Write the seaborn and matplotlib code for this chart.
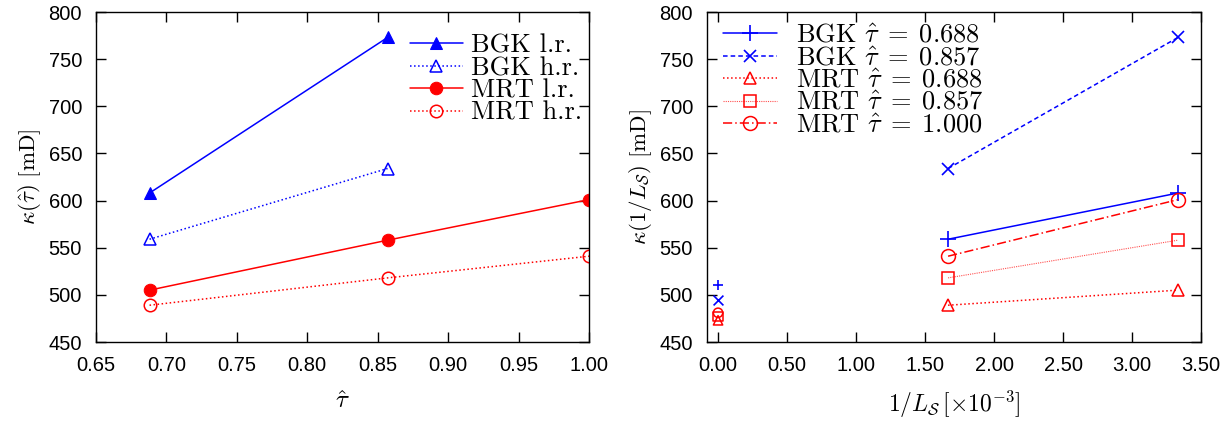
import matplotlib
matplotlib.use("Agg")
import matplotlib.pyplot as plt
import seaborn as sns
import numpy as np

# --- data ---
tau = [0.688, 0.857, 1.000]
bgk_lr = [608, 773]
bgk_hr = [559, 634]
mrt_lr = [505, 558, 601]
mrt_hr = [489, 518, 541]

# 1/L_S in units of 1e-3 (h.r., l.r.) and extrapolated value at 0
inv_ls = [1.667, 3.333]
inv_ls0 = [0.0]
bgk_0688 = [559, 608]
bgk_0857 = [634, 773]
mrt_0688 = [489, 505]
mrt_0857 = [518, 558]
mrt_1000 = [541, 601]
bgk_0688_ext = [510]
bgk_0857_ext = [495]
mrt_0688_ext = [473]
mrt_0857_ext = [477]
mrt_1000_ext = [481]

sns.set_style("ticks")
plt.rcParams['font.family'] = ['Liberation Sans', 'DejaVu Sans']
plt.rcParams['mathtext.fontset'] = 'cm'
plt.rcParams['xtick.direction'] = 'in'
plt.rcParams['ytick.direction'] = 'in'
plt.rcParams['xtick.top'] = True
plt.rcParams['ytick.right'] = True
for key in ['text.color', 'axes.labelcolor', 'xtick.color', 'ytick.color',
            'xtick.labelcolor', 'ytick.labelcolor']:
    plt.rcParams[key] = 'black'

W, H = 1232, 426
fig = plt.figure(figsize=(W / 100, H / 100), dpi=100)
ax1 = fig.add_axes([96 / W, 1 - 342 / H, 493 / W, 330 / H])
ax2 = fig.add_axes([707 / W, 1 - 342 / H, 494 / W, 330 / H])

blue = '#0000ff'
red = '#ff0000'
leg_font = {'family': 'cmr10', 'size': 19}

# left panel
sns.lineplot(x=tau[:2], y=bgk_lr, ax=ax1, color=blue, linestyle='-', lw=1.1,
             marker='^', markersize=8, markerfacecolor=blue, markeredgecolor=blue,
             label='BGK l.r.')
sns.lineplot(x=tau[:2], y=bgk_hr, ax=ax1, color=blue, linestyle=':', lw=1.1,
             marker='^', markersize=8, markerfacecolor='none', markeredgecolor=blue,
             markeredgewidth=1.1, label='BGK h.r.')
sns.lineplot(x=tau, y=mrt_lr, ax=ax1, color=red, linestyle='-', lw=1.1,
             marker='o', markersize=9, markerfacecolor=red, markeredgecolor=red,
             label='MRT l.r.')
sns.lineplot(x=tau, y=mrt_hr, ax=ax1, color=red, linestyle=':', lw=1.1,
             marker='o', markersize=9, markerfacecolor='none', markeredgecolor=red,
             markeredgewidth=1.1, label='MRT h.r.')

ax1.set_xlim(0.65, 1.0)
ax1.set_ylim(450, 800)
ax1.set_xticks(np.arange(0.65, 1.001, 0.05))
ax1.xaxis.set_major_formatter(matplotlib.ticker.FormatStrFormatter('%.2f'))
ax1.set_yticks(np.arange(450, 801, 50))
ax1.set_xlabel(r'$\hat{\tau}$', fontsize=18, labelpad=10)
ax1.set_ylabel(r'$\kappa(\hat{\tau})\ [\mathrm{mD}]$', fontsize=16.5, labelpad=4)
ax1.legend(loc='upper left', frameon=False, prop=leg_font, handlelength=2.0,
           handletextpad=0.3, labelspacing=-0.05, borderpad=0, borderaxespad=0,
           bbox_to_anchor=(410 / W, 1 - 34 / H), bbox_transform=fig.transFigure)

# right panel
sns.lineplot(x=inv_ls, y=bgk_0688, ax=ax2, color=blue, linestyle='-', lw=1.1,
             marker='+', markersize=11, markeredgewidth=1.2, markeredgecolor=blue,
             label=r'BGK $\hat{\tau}\;=\;0.688$')
sns.lineplot(x=inv_ls, y=bgk_0857, ax=ax2, color=blue, linestyle=(0, (3, 2)), lw=1.1,
             marker='x', markersize=9, markeredgewidth=1.2, markeredgecolor=blue,
             label=r'BGK $\hat{\tau}\;=\;0.857$')
sns.lineplot(x=inv_ls, y=mrt_0688, ax=ax2, color=red, linestyle=':', lw=1.1,
             marker='^', markersize=8, markerfacecolor='none', markeredgecolor=red,
             markeredgewidth=1.1, label=r'MRT $\hat{\tau}\;=\;0.688$')
sns.lineplot(x=inv_ls, y=mrt_0857, ax=ax2, color='#ff5050', linestyle=(0, (1, 1)), lw=0.8,
             marker='s', markersize=9, markerfacecolor='none', markeredgecolor=red,
             markeredgewidth=1.1, label=r'MRT $\hat{\tau}\;=\;0.857$')
sns.lineplot(x=inv_ls, y=mrt_1000, ax=ax2, color=red, linestyle=(0, (6, 2, 1, 2)), lw=1.1,
             marker='o', markersize=10, markerfacecolor='none', markeredgecolor=red,
             markeredgewidth=1.1, label=r'MRT $\hat{\tau}\;=\;1.000$')

# extrapolated values at 1/L_S -> 0, markers only
sns.scatterplot(x=inv_ls0, y=bgk_0688_ext, ax=ax2, color=blue, marker='+', s=60,
                linewidth=1.2, legend=False)
sns.scatterplot(x=inv_ls0, y=bgk_0857_ext, ax=ax2, color=blue, marker='x', s=50,
                linewidth=1.2, legend=False)
sns.scatterplot(x=inv_ls0, y=mrt_0688_ext, ax=ax2, marker='^', s=45, facecolor='none',
                edgecolor=red, linewidth=1.1, legend=False)
sns.scatterplot(x=inv_ls0, y=mrt_0857_ext, ax=ax2, marker='s', s=45, facecolor='none',
                edgecolor=red, linewidth=1.1, legend=False)
sns.scatterplot(x=inv_ls0, y=mrt_1000_ext, ax=ax2, marker='o', s=45, facecolor='none',
                edgecolor=red, linewidth=1.1, legend=False)

ax2.set_xlim(-0.08, 3.5)
ax2.set_ylim(450, 800)
ax2.set_xticks(np.arange(0, 3.51, 0.5))
ax2.xaxis.set_major_formatter(matplotlib.ticker.FormatStrFormatter('%.2f'))
ax2.set_yticks(np.arange(450, 801, 50))
ax2.set_xlabel(r'$1/L_{\mathcal{S}}\,[\times 10^{-3}]$', fontsize=17, labelpad=10)
ax2.set_ylabel(r'$\kappa(1/L_{\mathcal{S}})\ [\mathrm{mD}]$', fontsize=16.5, labelpad=4)
ax2.legend(loc='upper left', frameon=False, prop=leg_font, handlelength=2.05,
           handletextpad=0.7, labelspacing=-0.05, borderpad=0, borderaxespad=0,
           bbox_to_anchor=(723 / W, 1 - 24 / H), bbox_transform=fig.transFigure)

for ax in (ax1, ax2):
    ax.tick_params(labelsize=14.5, length=7, width=1, pad=10, colors='black')
    for s in ax.spines.values():
        s.set_visible(True)
        s.set_linewidth(1.0)
        s.set_color('black')

fig.savefig("out.png", dpi=100)
